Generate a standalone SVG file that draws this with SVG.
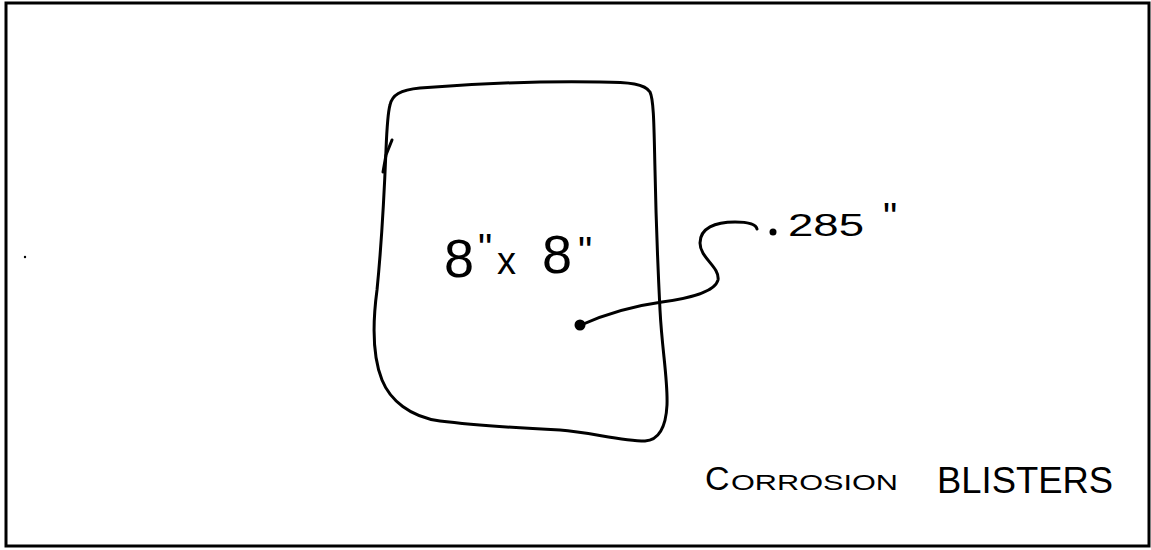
<svg xmlns="http://www.w3.org/2000/svg" width="1151" height="550" viewBox="0 0 1151 550">
<style>
.ink{fill:none;stroke:#000;stroke-width:3;stroke-linecap:round;stroke-linejoin:round}
.hand{font-family:"Liberation Sans",Arial,sans-serif;fill:#000}
</style>
<rect x="0" y="0" width="1151" height="550" fill="#fff"/>
<rect x="6" y="3" width="1143" height="543" fill="none" stroke="#000" stroke-width="3"/>
<g id="panel">
<path class="ink" d="M 390,105 C 392,95 400,90 420,88 C 470,84 540,81 600,82 C 630,82 645,84 650,92 C 654,100 654,130 655,170 C 656,220 658,270 660,310 C 662,350 668,380 667,405 C 666,425 660,440 645,441 C 620,441 590,432 560,430 C 520,428 480,426 440,421 C 410,417 390,400 382,380 C 372,355 373,320 377,290 C 381,250 384,200 386,150 C 387,125 388,112 390,105 Z"/>
<path class="ink" d="M 383,172 L 386,155 L 392,140"/>
<text class="hand" font-size="54"><tspan x="444" y="277">8</tspan><tspan x="478" y="262" font-size="40">"</tspan><tspan x="497" y="274" font-size="38">x</tspan><tspan x="542" y="273">8</tspan><tspan x="578" y="265" font-size="40">"</tspan></text>
</g>
<g id="connectors">
<circle cx="580" cy="325" r="5.5" fill="#000"/>
<path class="ink" d="M 581,325 C 610,312 640,305 662,302 C 690,298 715,292 718,280 C 720,267 700,258 700,243 C 700,228 715,222 735,222 C 748,222 756,224 757,229"/>
</g>
<g id="label-thickness">
<circle cx="773" cy="232" r="3.5" fill="#000"/>
<text class="hand" font-size="32"><tspan x="788" y="236" textLength="76" lengthAdjust="spacingAndGlyphs">285</tspan><tspan x="883" y="231" font-size="40">"</tspan></text>
</g>
<g id="caption">
<text class="hand" y="490"><tspan x="705" font-size="34">C</tspan><tspan x="731" font-size="22" textLength="167" lengthAdjust="spacingAndGlyphs">ORROSION</tspan></text>
<text class="hand" font-size="36" x="937" y="493" textLength="176" lengthAdjust="spacingAndGlyphs">BLISTERS</text>
</g>
<circle cx="25" cy="257" r="1.2" fill="#000"/>
</svg>
